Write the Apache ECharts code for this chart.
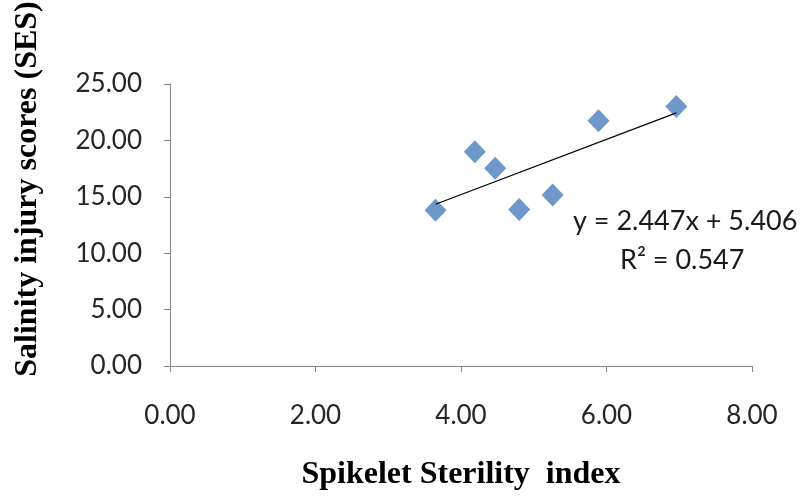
<!DOCTYPE html>
<html><head><meta charset="utf-8">
<script src="https://cdn.jsdelivr.net/npm/echarts@6/dist/echarts.min.js"></script>
<style>html,body{margin:0;padding:0;background:#fff}#c{width:800px;height:497px}</style>
</head><body><div id="c"></div>
<script>
const sterility = [3.65, 4.19, 4.47, 4.80, 5.26, 5.89, 6.96];
const injury = [13.80, 19.00, 17.52, 13.88, 15.17, 21.74, 23.00];
const slope = 2.447, intercept = 5.406, r2 = 0.547;
const xTitle = 'Spikelet Sterility  index';
const yTitle = 'Salinity injury scores (SES)';

const pts = sterility.map((x, i) => [x, injury[i]]);
const xMin = Math.min(...sterility), xMax = Math.max(...sterility);
const trend = [[xMin, slope * xMin + intercept], [xMax, slope * xMax + intercept]];

const chart = echarts.init(document.getElementById('c'), null, {renderer: 'canvas'});
const axisCol = '#868686';
const lblFont = 'Lato, "Open Sans", sans-serif';
const titleFont = 'bold 32px "Liberation Serif", serif';
chart.setOption({
  animation: false,
  grid: {left: 170, right: 48, top: 84, bottom: 131},
  xAxis: {
    type: 'value', min: 0, max: 8, interval: 2,
    splitLine: {show: false},
    axisLine: {lineStyle: {color: axisCol, width: 1}},
    axisTick: {show: true, length: 6, lineStyle: {color: axisCol}},
    axisLabel: {margin: 37, fontSize: 26, color: '#262626', fontFamily: lblFont, formatter: v => v.toFixed(2)},
    name: xTitle, nameLocation: 'middle', nameGap: 93,
    nameTextStyle: {fontFamily: '"Liberation Serif", serif', fontWeight: 'bold', fontSize: 32, color: '#000'}
  },
  yAxis: {
    type: 'value', min: 0, max: 25, interval: 5,
    splitLine: {show: false},
    axisLine: {show: true, lineStyle: {color: axisCol, width: 1}},
    axisTick: {show: true, length: 6, lineStyle: {color: axisCol}},
    axisLabel: {margin: 28, fontSize: 26, color: '#262626', fontFamily: lblFont, formatter: v => v.toFixed(2)}
  },
  series: [
    {type: 'scatter', data: pts, symbol: 'diamond', symbolSize: [22, 23],
     itemStyle: {color: '#4a7ebb'}, z: 2},
    {type: 'line', data: trend, symbol: 'none', lineStyle: {color: '#000', width: 1.2}, z: 3}
  ],
  graphic: [
    {type: 'text', x: 28, y: 189, rotation: Math.PI / 2,
     style: {text: yTitle, font: titleFont, fill: '#000', align: 'center', verticalAlign: 'middle'}},
    {type: 'text', left: 573, top: 208, style: {text: 'y = ' + slope.toFixed(3) + 'x + ' + intercept.toFixed(3), font: '27px ' + lblFont, fill: '#1a1a1a'}},
    {type: 'text', left: 620, top: 247, style: {text: 'R² = ' + r2.toFixed(3), font: '27px ' + lblFont, fill: '#1a1a1a'}}
  ]
});
</script></body></html>
